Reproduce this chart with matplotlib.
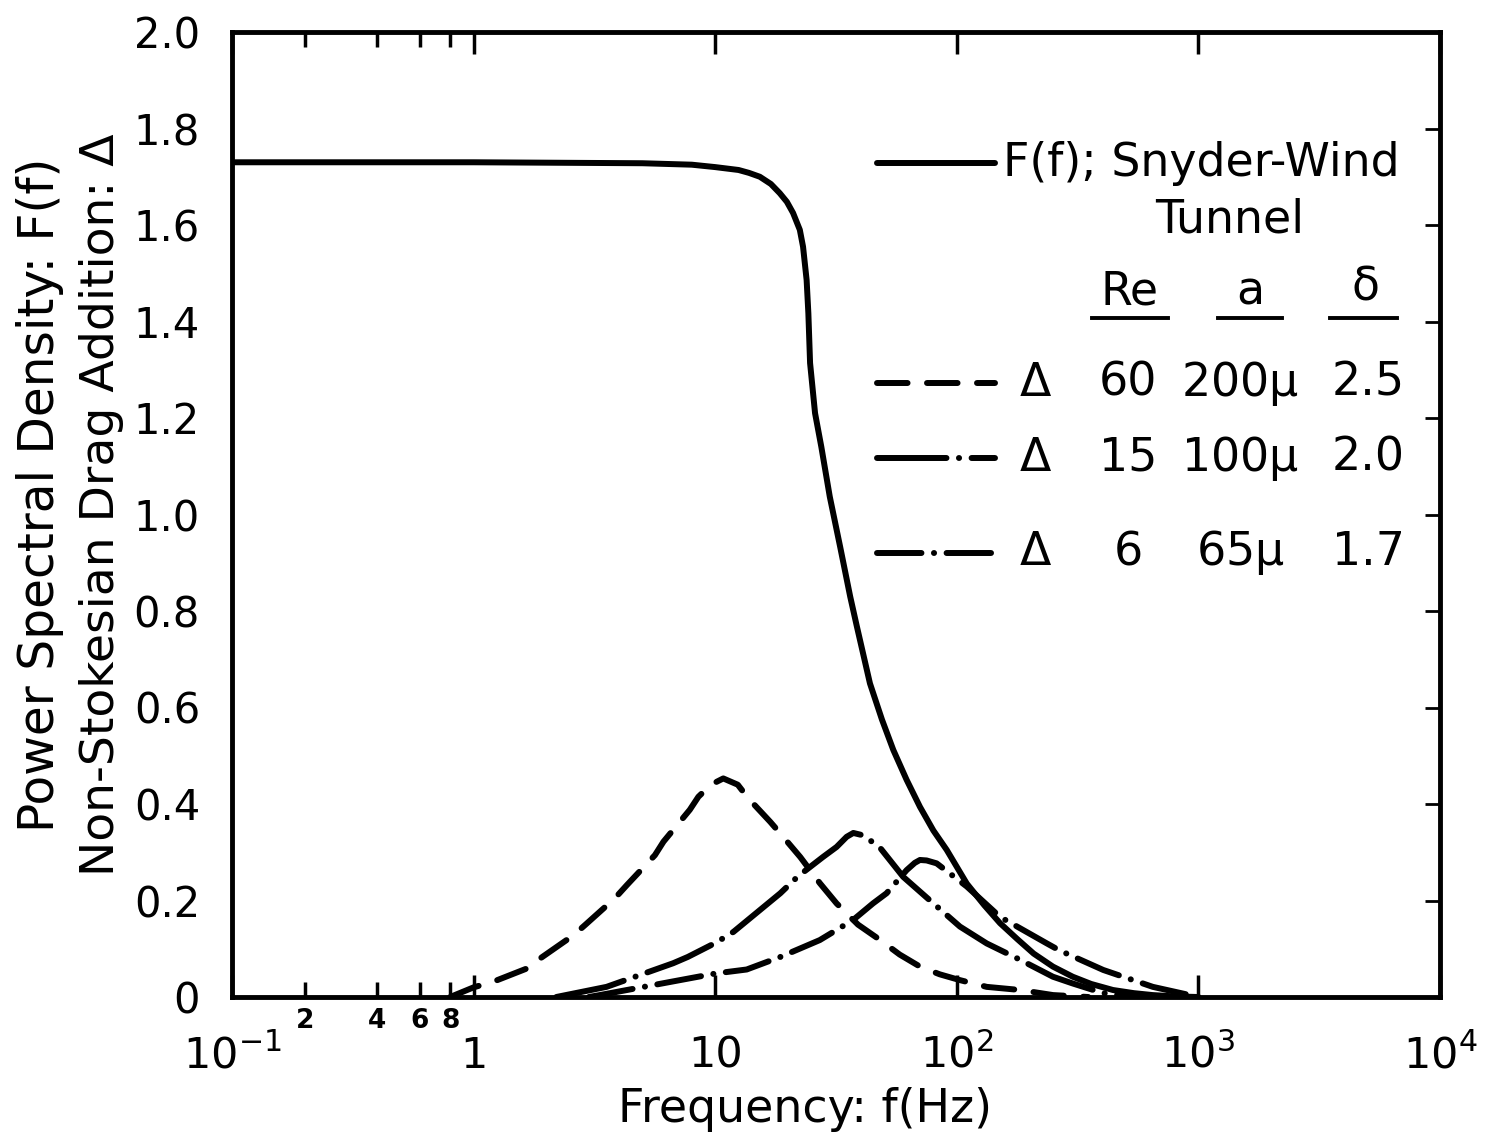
import matplotlib
matplotlib.use("Agg")
import matplotlib.pyplot as plt
from matplotlib.lines import Line2D
from matplotlib.ticker import FixedLocator

plt.rcParams['font.family'] = ['DejaVu Sans']
plt.rcParams['mathtext.default'] = 'regular'
plt.rcParams['lines.scale_dashes'] = False

# ---------------- data ----------------
f_F = [0.1, 1, 5, 8, 10, 12.5, 13.8, 15.3, 17.0, 18.5, 19.8, 21.0, 22.4, 23.1,
       23.9, 24.3, 24.7, 25.9, 27.5, 29.8, 32.9, 36.2, 38.5, 43.7, 49, 54.6,
       62, 70.4, 80, 90.8, 110, 130, 151, 178, 208, 250, 302, 360, 443, 540,
       646, 800, 1000]
F_vals = [1.73, 1.73, 1.728, 1.725, 1.72, 1.714, 1.708, 1.70, 1.685, 1.666,
          1.648, 1.625, 1.59, 1.555, 1.486, 1.417, 1.314, 1.21, 1.14, 1.037,
          0.933, 0.83, 0.77, 0.65, 0.575, 0.512, 0.45, 0.394, 0.345, 0.305,
          0.235, 0.19, 0.153, 0.12, 0.09, 0.063, 0.042, 0.027, 0.0145, 0.008,
          0.004, 0.0012, 0.0]

f_re60 = [0.8, 1.0, 1.21, 1.66, 1.85, 2.59, 2.89, 3.85, 4.31, 5.63, 6.11, 7.85,
          8.52, 9.6, 10.8, 12.4, 13.7, 16.9, 18.3, 22.5, 27.1, 31.8, 39, 48.2,
          58, 70.4, 85, 103, 133, 183, 250, 350]
d_re60 = [0.0, 0.02, 0.032, 0.059, 0.077, 0.128, 0.149, 0.205, 0.232, 0.294,
          0.322, 0.388, 0.415, 0.44, 0.453, 0.44, 0.412, 0.363, 0.343, 0.29,
          0.236, 0.194, 0.15, 0.118, 0.088, 0.063, 0.047, 0.035, 0.021, 0.0145,
          0.004, 0.0]

f_re15 = [2.2, 3.55, 6.7, 7.7, 10.1, 11.9, 18.6, 22.0, 27.9, 31.8, 35.0, 37.3,
          41, 48, 60, 77.5, 103, 133, 183, 250, 302, 404, 550]
d_re15 = [0.0, 0.021, 0.07, 0.083, 0.113, 0.135, 0.215, 0.25, 0.29, 0.311,
          0.332, 0.34, 0.335, 0.31, 0.249, 0.2, 0.146, 0.111, 0.077, 0.042,
          0.028, 0.008, 0.0]

f_re6 = [3.0, 3.33, 10.1, 13.5, 18.6, 27.1, 37.3, 45, 51.2, 62, 67, 70.4,
         75, 82.5, 110, 151, 236, 265, 404, 648, 1000]
d_re6 = [0.0, 0.004, 0.049, 0.057, 0.083, 0.118, 0.16, 0.194, 0.215, 0.263,
         0.278, 0.284, 0.283, 0.277, 0.229, 0.166, 0.111, 0.097, 0.056, 0.021,
         0.0]

yticks = [0, 0.2, 0.4, 0.6, 0.8, 1.0, 1.2, 1.4, 1.6, 1.8, 2.0]
ytick_labels = ['0', '0.2', '0.4', '0.6', '0.8', '1.0', '1.2', '1.4', '1.6', '1.8', '2.0']
xticks = [0.1, 1, 10, 100, 1000, 10000]
xtick_labels = ['$10^{-1}$', '1', '10', '$10^{2}$', '$10^{3}$', '$10^{4}$']
xminor = [0.2, 0.4, 0.6, 0.8]
xminor_labels = ['2', '4', '6', '8']

legend_rows = [
    ('60', '200$\\mu$', '2.5'),
    ('15', '100$\\mu$', '2.0'),
    ('6', '65$\\mu$', '1.7'),
]

# ---------------- figure ----------------
W, H = 1486, 1144
fig = plt.figure(figsize=(W / 100, H / 100), dpi=100)
fig.patch.set_facecolor('white')

def fx(px):
    return px / W

def fy(py):
    return 1 - py / H

L, R, T, B = 232, 1440, 32, 997
ax = fig.add_axes([fx(L), fy(B), (R - L) / W, (B - T) / H])
ax.set_xscale('log')
ax.set_xlim(0.1, 10000)
ax.set_ylim(0, 2.0)

lw = 4.3
styles = {
    'F': dict(linestyle='-'),
    're60': dict(linestyle=(0, (22, 14))),
    're15': dict(linestyle=(0, (50, 9, 0.1, 9))),
    're6': dict(linestyle=(0, (32, 9, 0.1, 9))),
}

ax.plot(f_F, F_vals, color='black', lw=lw, solid_capstyle='round',
        solid_joinstyle='round', **styles['F'])
ax.plot(f_re60, d_re60, color='black', lw=lw, dash_capstyle='round',
        dash_joinstyle='round', **styles['re60'])
ax.plot(f_re15, d_re15, color='black', lw=lw, dash_capstyle='round',
        dash_joinstyle='round', **styles['re15'])
ax.plot(f_re6, d_re6, color='black', lw=lw, dash_capstyle='round',
        dash_joinstyle='round', **styles['re6'])

for s in ax.spines.values():
    s.set_linewidth(3.5)

ax.xaxis.set_major_locator(FixedLocator(xticks))
ax.set_xticklabels(xtick_labels)
ax.xaxis.set_minor_locator(FixedLocator(xminor))
ax.set_xticklabels(xminor_labels, minor=True)
ax.set_yticks(yticks)
ax.set_yticklabels(ytick_labels)

ax.tick_params(axis='x', which='major', direction='in', top=True, bottom=True,
               length=16, width=2.5, labelsize=31, pad=27)
ax.tick_params(axis='x', which='minor', direction='in', top=True, bottom=True,
               length=11, width=2.5, labelsize=19, pad=8)
for lab in ax.get_xticklabels(minor=True):
    lab.set_fontweight('bold')
ax.tick_params(axis='y', which='major', direction='in', left=False, right=True,
               length=11, width=2.0, labelsize=30, pad=23)

ax.set_xlabel('Frequency: f(Hz)', fontsize=33)
ax.xaxis.set_label_coords((805 - L) / (R - L), (B - 1087) / (B - T))

fig.text(fx(40), fy(495), 'Power Spectral Density: F(f)', rotation=90,
         ha='center', va='center', fontsize=35)
fig.text(fx(102), fy(505), 'Non-Stokesian Drag Addition: \u0394', rotation=90,
         ha='center', va='center', fontsize=34)

# ---------------- legend (drawn by hand, like the original) ----------------
def leg_line(py, key):
    ln = Line2D([fx(877), fx(995)], [fy(py), fy(py)], transform=fig.transFigure,
                color='black', lw=lw, dash_capstyle='round', solid_capstyle='round',
                **styles[key])
    fig.add_artist(ln)

FS = 33
leg_line(163, 'F')
fig.text(fx(1003), fy(163), 'F(f); Snyder-Wind', ha='left', va='center', fontsize=FS)
fig.text(fx(1230), fy(220), 'Tunnel', ha='center', va='center', fontsize=FS)

fig.text(fx(1130), fy(292), 'Re', ha='center', va='center', fontsize=FS)
fig.text(fx(1250), fy(292), 'a', ha='center', va='center', fontsize=FS)
fig.text(fx(1365), fy(288), '\u03b4', ha='center', va='center', fontsize=FS)
for x0, x1 in [(1092, 1168), (1218, 1282), (1330, 1397)]:
    fig.add_artist(Line2D([fx(x0), fx(x1)], [fy(318), fy(318)],
                          transform=fig.transFigure, color='black', lw=2.8))

for (re, a, d), py, key in zip(legend_rows, [383, 458, 553], ['re60', 're15', 're6']):
    leg_line(py, key)
    fig.text(fx(1035), fy(py), '\u0394', ha='center', va='center', fontsize=FS)
    fig.text(fx(1128), fy(py), re, ha='center', va='center', fontsize=FS)
    fig.text(fx(1240), fy(py), a, ha='center', va='center', fontsize=FS)
    fig.text(fx(1368), fy(py), d, ha='center', va='center', fontsize=FS)

fig.savefig('out.png', dpi=100, facecolor='white')
